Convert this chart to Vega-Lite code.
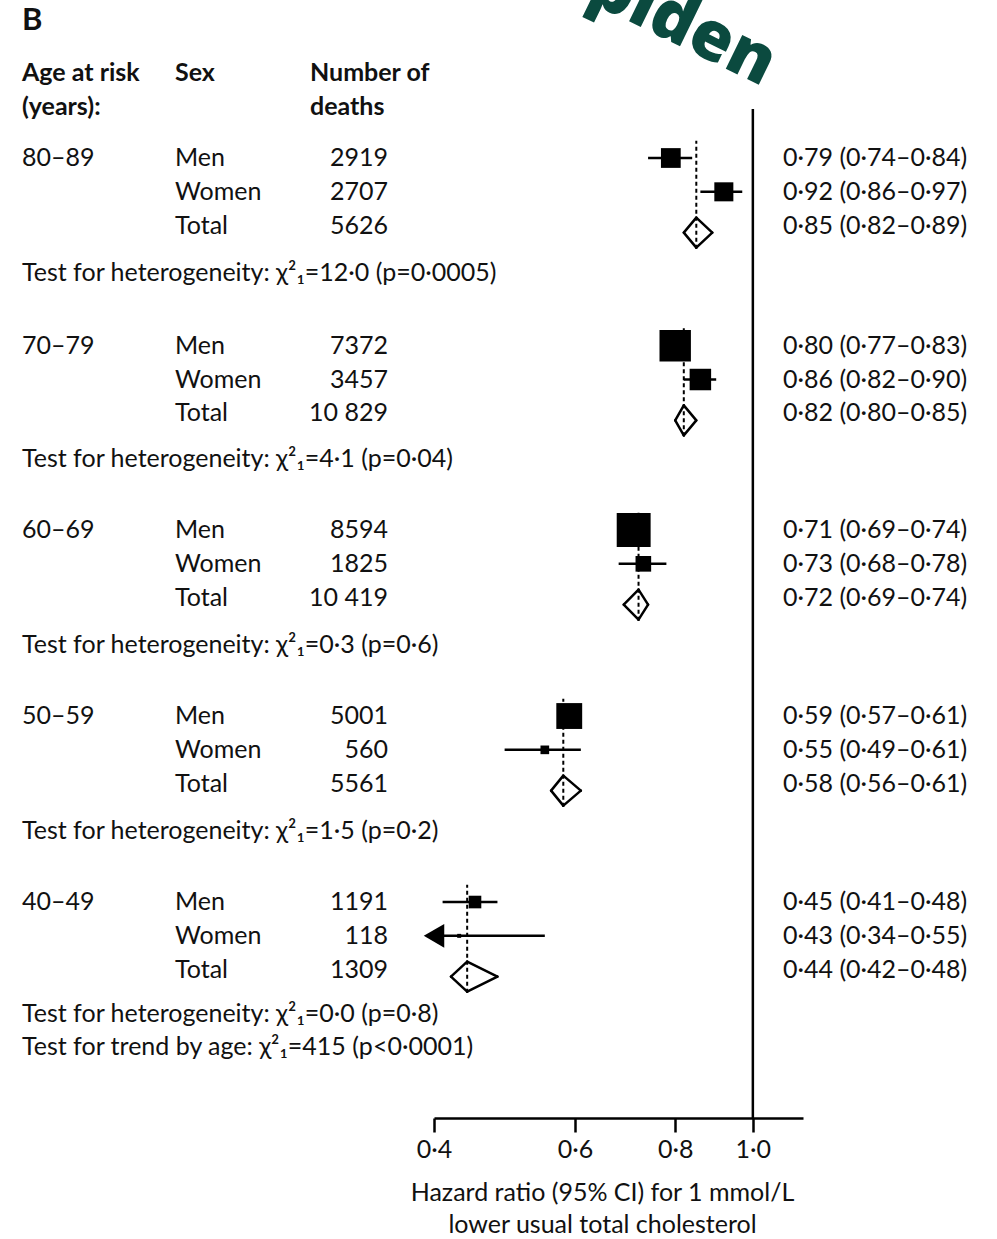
{
  "$schema": "https://vega.github.io/schema/vega-lite/v6.json",
  "width": 997,
  "height": 1118,
  "padding": 0,
  "autosize": {"type": "pad"},
  "background": "white",
  "config": {
    "view": {"stroke": null},
    "text": {"font": "Lato", "fontSize": 25, "color": "#111111"},
    "axis": {
      "grid": false,
      "domainColor": "#000000", "domainWidth": 2.5,
      "tickColor": "#000000", "tickWidth": 2.5, "tickSize": 14,
      "labelFont": "Lato", "labelFontSize": 25, "labelColor": "#111111", "labelPadding": 5, "labelFlush": false,
      "titleFont": "Lato", "titleFontSize": 25, "titleFontWeight": "normal", "titleColor": "#111111", "titlePadding": 18, "titleLineHeight": 32
    }
  },
  "datasets": {
    "forest": [
      {"age": "80–89", "sex": "Men", "deaths": 2919, "deathsLabel": "2919", "hr": 0.79, "lo": 0.74, "hi": 0.84, "ci": "0·79 (0·74–0·84)", "row": 0},
      {"age": "80–89", "sex": "Women", "deaths": 2707, "deathsLabel": "2707", "hr": 0.92, "lo": 0.86, "hi": 0.97, "ci": "0·92 (0·86–0·97)", "row": 1},
      {"age": "80–89", "sex": "Total", "deaths": 5626, "deathsLabel": "5626", "hr": 0.85, "lo": 0.82, "hi": 0.89, "ci": "0·85 (0·82–0·89)", "row": 2},
      {"age": "70–79", "sex": "Men", "deaths": 7372, "deathsLabel": "7372", "hr": 0.80, "lo": 0.77, "hi": 0.83, "ci": "0·80 (0·77–0·83)", "row": 5.55},
      {"age": "70–79", "sex": "Women", "deaths": 3457, "deathsLabel": "3457", "hr": 0.86, "lo": 0.82, "hi": 0.90, "ci": "0·86 (0·82–0·90)", "row": 6.55},
      {"age": "70–79", "sex": "Total", "deaths": 10829, "deathsLabel": "10 829", "hr": 0.82, "lo": 0.80, "hi": 0.85, "ci": "0·82 (0·80–0·85)", "row": 7.55},
      {"age": "60–69", "sex": "Men", "deaths": 8594, "deathsLabel": "8594", "hr": 0.71, "lo": 0.69, "hi": 0.74, "ci": "0·71 (0·69–0·74)", "row": 11},
      {"age": "60–69", "sex": "Women", "deaths": 1825, "deathsLabel": "1825", "hr": 0.73, "lo": 0.68, "hi": 0.78, "ci": "0·73 (0·68–0·78)", "row": 12},
      {"age": "60–69", "sex": "Total", "deaths": 10419, "deathsLabel": "10 419", "hr": 0.72, "lo": 0.69, "hi": 0.74, "ci": "0·72 (0·69–0·74)", "row": 13},
      {"age": "50–59", "sex": "Men", "deaths": 5001, "deathsLabel": "5001", "hr": 0.59, "lo": 0.57, "hi": 0.61, "ci": "0·59 (0·57–0·61)", "row": 16.5},
      {"age": "50–59", "sex": "Women", "deaths": 560, "deathsLabel": "560", "hr": 0.55, "lo": 0.49, "hi": 0.61, "ci": "0·55 (0·49–0·61)", "row": 17.5},
      {"age": "50–59", "sex": "Total", "deaths": 5561, "deathsLabel": "5561", "hr": 0.58, "lo": 0.56, "hi": 0.61, "ci": "0·58 (0·56–0·61)", "row": 18.5},
      {"age": "40–49", "sex": "Men", "deaths": 1191, "deathsLabel": "1191", "hr": 0.45, "lo": 0.41, "hi": 0.48, "ci": "0·45 (0·41–0·48)", "row": 22},
      {"age": "40–49", "sex": "Women", "deaths": 118, "deathsLabel": "118", "hr": 0.43, "lo": 0.34, "hi": 0.55, "ci": "0·43 (0·34–0·55)", "row": 23},
      {"age": "40–49", "sex": "Total", "deaths": 1309, "deathsLabel": "1309", "hr": 0.44, "lo": 0.42, "hi": 0.48, "ci": "0·44 (0·42–0·48)", "row": 24}
    ],
    "notes": [
      {"text": "Test for heterogeneity: χ²₁=12·0 (p=0·0005)", "row": 3.4},
      {"text": "Test for heterogeneity: χ²₁=4·1 (p=0·04)", "row": 8.9},
      {"text": "Test for heterogeneity: χ²₁=0·3 (p=0·6)", "row": 14.4},
      {"text": "Test for heterogeneity: χ²₁=1·5 (p=0·2)", "row": 19.9},
      {"text": "Test for heterogeneity: χ²₁=0·0 (p=0·8)", "row": 25.3},
      {"text": "Test for trend by age: χ²₁=415 (p<0·0001)", "row": 26.3}
    ],
    "headers": [
      {"text": "Age at risk", "col": 0, "row": -2.5},
      {"text": "(years):", "col": 0, "row": -1.5},
      {"text": "Sex", "col": 1, "row": -2.5},
      {"text": "Number of", "col": 2, "row": -2.5},
      {"text": "deaths", "col": 2, "row": -1.5}
    ],
    "panel": [{"text": "B", "row": -4.05}],
    "reference": [{"hr": 1.0}],
    "overlay": [{"text": "piden"}]
  },
  "layer": [
    {
      "layer": [
        {
          "data": {"name": "reference"},
          "mark": {"type": "rule", "color": "#000000", "strokeWidth": 2.5},
          "encoding": {
            "x": {"field": "hr", "type": "quantitative",
                  "scale": {"type": "log", "domain": [0.4, 1.155], "range": [434, 803], "clamp": true, "nice": false},
                  "axis": {"values": [0.4, 0.6, 0.8, 1.0], "labelExpr": "replace(format(datum.value, '.1f'), '.', '·')",
                           "title": ["Hazard ratio (95% CI) for 1 mmol/L", "lower usual total cholesterol"], "titleX": 602, "titleAlign": "center", "titleAnchor": null}},
            "y": {"datum": -1.45, "type": "quantitative", "scale": {"domain": [-4.672, 28.386], "reverse": true, "nice": false, "zero": false}, "axis": null},
            "y2": {"datum": 28.386}
          }
        },
        {
          "data": {"name": "forest"},
          "transform": [{"filter": "datum.sex === 'Total'"}],
          "mark": {"type": "rule", "color": "#000000", "strokeWidth": 2, "strokeDash": [4, 3], "yOffset": 23, "y2Offset": -85},
          "encoding": {
            "x": {"field": "hr", "type": "quantitative"},
            "y": {"field": "row", "type": "quantitative", "scale": {"domain": [-4.672, 28.386], "reverse": true, "nice": false, "zero": false}, "axis": null},
            "y2": {"field": "row"}
          }
        },
        {
          "data": {"name": "forest"},
          "transform": [{"filter": "datum.sex !== 'Total'"}],
          "mark": {"type": "rule", "color": "#000000", "strokeWidth": 2.5},
          "encoding": {
            "x": {"field": "lo", "type": "quantitative"},
            "x2": {"field": "hi"},
            "y": {"field": "row", "type": "quantitative", "scale": {"domain": [-4.672, 28.386], "reverse": true, "nice": false, "zero": false}, "axis": null}
          }
        },
        {
          "data": {"name": "forest"},
          "transform": [{"filter": "datum.sex !== 'Total'"}],
          "mark": {"type": "point", "shape": "square", "filled": true, "color": "#000000", "opacity": 1},
          "encoding": {
            "x": {"field": "hr", "type": "quantitative"},
            "y": {"field": "row", "type": "quantitative", "scale": {"domain": [-4.672, 28.386], "reverse": true, "nice": false, "zero": false}, "axis": null},
            "size": {"field": "deaths", "type": "quantitative", "scale": {"domain": [0, 8594], "range": [0, 1150], "zero": true}, "legend": null}
          }
        },
        {
          "data": {"name": "forest"},
          "transform": [{"filter": "datum.lo < 0.4"}],
          "mark": {"type": "point", "shape": "triangle-left", "filled": true, "color": "#000000", "opacity": 1, "size": 560},
          "encoding": {
            "x": {"field": "lo", "type": "quantitative"},
            "y": {"field": "row", "type": "quantitative", "scale": {"domain": [-4.672, 28.386], "reverse": true, "nice": false, "zero": false}, "axis": null}
          }
        },
        {
          "data": {"name": "forest"},
          "transform": [{"filter": "datum.sex === 'Total'"}],
          "mark": {"type": "rule", "color": "#000000", "strokeWidth": 2.5, "strokeCap": "round", "yOffset": 7, "y2Offset": -8},
          "encoding": {"x": {"field": "lo", "type": "quantitative"}, "x2": {"field": "hr"},
            "y": {"field": "row", "type": "quantitative", "scale": {"domain": [-4.672, 28.386], "reverse": true, "nice": false, "zero": false}, "axis": null},
            "y2": {"field": "row"}}
        },
        {
          "data": {"name": "forest"},
          "transform": [{"filter": "datum.sex === 'Total'"}],
          "mark": {"type": "rule", "color": "#000000", "strokeWidth": 2.5, "strokeCap": "round", "yOffset": 7, "y2Offset": 22},
          "encoding": {"x": {"field": "lo", "type": "quantitative"}, "x2": {"field": "hr"},
            "y": {"field": "row", "type": "quantitative", "scale": {"domain": [-4.672, 28.386], "reverse": true, "nice": false, "zero": false}, "axis": null},
            "y2": {"field": "row"}}
        },
        {
          "data": {"name": "forest"},
          "transform": [{"filter": "datum.sex === 'Total'"}],
          "mark": {"type": "rule", "color": "#000000", "strokeWidth": 2.5, "strokeCap": "round", "yOffset": -8, "y2Offset": 7},
          "encoding": {"x": {"field": "hr", "type": "quantitative"}, "x2": {"field": "hi"},
            "y": {"field": "row", "type": "quantitative", "scale": {"domain": [-4.672, 28.386], "reverse": true, "nice": false, "zero": false}, "axis": null},
            "y2": {"field": "row"}}
        },
        {
          "data": {"name": "forest"},
          "transform": [{"filter": "datum.sex === 'Total'"}],
          "mark": {"type": "rule", "color": "#000000", "strokeWidth": 2.5, "strokeCap": "round", "yOffset": 22, "y2Offset": 7},
          "encoding": {"x": {"field": "hr", "type": "quantitative"}, "x2": {"field": "hi"},
            "y": {"field": "row", "type": "quantitative", "scale": {"domain": [-4.672, 28.386], "reverse": true, "nice": false, "zero": false}, "axis": null},
            "y2": {"field": "row"}}
        },
        {
          "data": {"name": "overlay"},
          "mark": {"type": "text", "font": "Open Sans", "fontSize": 68, "fontWeight": 800, "color": "#0b4a3f", "angle": 26, "align": "center", "clip": true},
          "encoding": {
            "x": {"datum": 0.818, "type": "quantitative"},
            "y": {"datum": -3.92, "type": "quantitative", "scale": {"domain": [-4.672, 28.386], "reverse": true, "nice": false, "zero": false}, "axis": null},
            "text": {"field": "text"}
          }
        }
      ]
    },
    {
      "layer": [
        {
          "data": {"name": "panel"},
          "mark": {"type": "text", "align": "left", "fontWeight": "bold", "fontSize": 31},
          "encoding": {
            "x": {"datum": 0, "type": "quantitative", "scale": {"type": "linear", "domain": [0, 1, 2, 3, 4], "range": [22, 175, 310, 388, 783], "nice": false, "zero": false}, "axis": null},
            "y": {"field": "row", "type": "quantitative", "scale": {"domain": [-4.672, 28.386], "reverse": true, "nice": false, "zero": false}, "axis": null},
            "text": {"field": "text"}
          }
        },
        {
          "data": {"name": "headers"},
          "mark": {"type": "text", "align": "left", "fontWeight": "bold"},
          "encoding": {
            "x": {"field": "col", "type": "quantitative", "scale": {"type": "linear", "domain": [0, 1, 2, 3, 4], "range": [22, 175, 310, 388, 783], "nice": false, "zero": false}, "axis": null},
            "y": {"field": "row", "type": "quantitative", "scale": {"domain": [-4.672, 28.386], "reverse": true, "nice": false, "zero": false}, "axis": null},
            "text": {"field": "text"}
          }
        },
        {
          "data": {"name": "forest"},
          "transform": [{"filter": "datum.sex === 'Men'"}],
          "mark": {"type": "text", "align": "left"},
          "encoding": {
            "x": {"datum": 0, "type": "quantitative", "scale": {"type": "linear", "domain": [0, 1, 2, 3, 4], "range": [22, 175, 310, 388, 783], "nice": false, "zero": false}, "axis": null},
            "y": {"field": "row", "type": "quantitative", "scale": {"domain": [-4.672, 28.386], "reverse": true, "nice": false, "zero": false}, "axis": null},
            "text": {"field": "age"}
          }
        },
        {
          "data": {"name": "forest"},
          "mark": {"type": "text", "align": "left"},
          "encoding": {
            "x": {"datum": 1, "type": "quantitative", "scale": {"type": "linear", "domain": [0, 1, 2, 3, 4], "range": [22, 175, 310, 388, 783], "nice": false, "zero": false}, "axis": null},
            "y": {"field": "row", "type": "quantitative", "scale": {"domain": [-4.672, 28.386], "reverse": true, "nice": false, "zero": false}, "axis": null},
            "text": {"field": "sex"}
          }
        },
        {
          "data": {"name": "forest"},
          "mark": {"type": "text", "align": "right"},
          "encoding": {
            "x": {"datum": 3, "type": "quantitative", "scale": {"type": "linear", "domain": [0, 1, 2, 3, 4], "range": [22, 175, 310, 388, 783], "nice": false, "zero": false}, "axis": null},
            "y": {"field": "row", "type": "quantitative", "scale": {"domain": [-4.672, 28.386], "reverse": true, "nice": false, "zero": false}, "axis": null},
            "text": {"field": "deathsLabel"}
          }
        },
        {
          "data": {"name": "forest"},
          "mark": {"type": "text", "align": "left"},
          "encoding": {
            "x": {"datum": 4, "type": "quantitative", "scale": {"type": "linear", "domain": [0, 1, 2, 3, 4], "range": [22, 175, 310, 388, 783], "nice": false, "zero": false}, "axis": null},
            "y": {"field": "row", "type": "quantitative", "scale": {"domain": [-4.672, 28.386], "reverse": true, "nice": false, "zero": false}, "axis": null},
            "text": {"field": "ci"}
          }
        },
        {
          "data": {"name": "notes"},
          "mark": {"type": "text", "align": "left"},
          "encoding": {
            "x": {"datum": 0, "type": "quantitative", "scale": {"type": "linear", "domain": [0, 1, 2, 3, 4], "range": [22, 175, 310, 388, 783], "nice": false, "zero": false}, "axis": null},
            "y": {"field": "row", "type": "quantitative", "scale": {"domain": [-4.672, 28.386], "reverse": true, "nice": false, "zero": false}, "axis": null},
            "text": {"field": "text"}
          }
        }
      ]
    }
  ],
  "resolve": {"scale": {"x": "independent"}, "axis": {"x": "independent"}}
}
